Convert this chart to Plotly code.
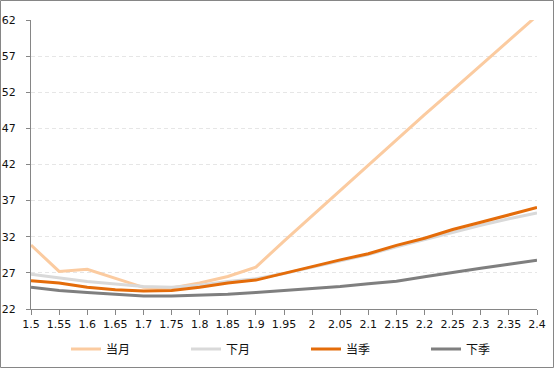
import plotly.graph_objects as go

x_vals = [1.5, 1.55, 1.6, 1.65, 1.7, 1.75, 1.8, 1.85, 1.9, 1.95,
          2.0, 2.05, 2.1, 2.15, 2.2, 2.25, 2.3, 2.35, 2.4]
x_labels = ["1.5", "1.55", "1.6", "1.65", "1.7", "1.75", "1.8", "1.85", "1.9", "1.95",
            "2", "2.05", "2.1", "2.15", "2.2", "2.25", "2.3", "2.35", "2.4"]

dangyue = [30.85, 27.2, 27.5, 26.3, 25.0, 24.9, 25.6, 26.5, 27.8, 31.4,
           34.9, 38.45, 42.0, 45.4, 48.9, 52.3, 55.7, 59.2, 62.6]
xiayue = [26.8, 26.3, 25.8, 25.45, 25.1, 25.0, 25.3, 25.8, 26.2, 26.9,
          27.75, 28.6, 29.55, 30.6, 31.6, 32.7, 33.6, 34.5, 35.3]
dangji = [25.9, 25.6, 25.0, 24.65, 24.5, 24.55, 25.0, 25.6, 26.0, 26.95,
          27.85, 28.8, 29.65, 30.8, 31.8, 33.0, 34.0, 35.05, 36.05]
xiaji = [25.0, 24.55, 24.3, 24.0, 23.8, 23.8, 23.9, 24.05, 24.3, 24.55,
         24.8, 25.1, 25.5, 25.85, 26.45, 27.1, 27.65, 28.2, 28.75]

y_ticks = [22, 27, 32, 37, 42, 47, 52, 57, 62]

series = [
    ("当月", dangyue, "#FBCBA0"),
    ("下月", xiayue, "#D9D9D9"),
    ("当季", dangji, "#E46C0A"),
    ("下季", xiaji, "#7F7F7F"),
]

fig = go.Figure()
for name, vals, color in series:
    fig.add_trace(go.Scatter(x=x_vals, y=vals, name=name, mode="lines",
                             line=dict(color=color, width=3)))

W, H = 554, 368
L, R, T, B = 31, 17, 20, 59
pw, ph = W - L - R, H - T - B

tick_font = dict(family="DejaVu Sans, Verdana, sans-serif", size=11, color="#111")

fig.update_layout(
    width=W, height=H,
    margin=dict(l=L, r=R, t=T, b=B, pad=0, autoexpand=False),
    paper_bgcolor="white", plot_bgcolor="white",
    font=dict(family="DejaVu Sans, Noto Sans CJK SC, sans-serif", size=11, color="#111"),
    showlegend=True,
    legend=dict(orientation="h", xref="container", x=66 / W, xanchor="left",
                yref="container", y=(H - 349) / H, yanchor="middle",
                entrywidth=75, entrywidthmode="pixels",
                font=dict(family="Noto Sans CJK SC", size=12, color="#111"),
                bgcolor="rgba(0,0,0,0)"),
    xaxis=dict(range=[1.5, 2.4], tickmode="array", tickvals=x_vals, ticktext=x_labels,
               tickfont=tick_font,
               showgrid=False, zeroline=False, showline=True, linecolor="#868686", linewidth=1,
               ticks="outside", ticklen=5, tickcolor="#868686", tickwidth=1,
               tickangle=0, automargin=False, fixedrange=True),
    yaxis=dict(range=[22, 62], tickmode="array", tickvals=y_ticks,
               tickfont=tick_font,
               showgrid=True, gridcolor="#E6E6E6", gridwidth=1, griddash="4px,3px",
               zeroline=False, showline=True, linecolor="#868686", linewidth=1,
               ticks="outside", ticklen=4, tickcolor="#868686", tickwidth=1,
               ticklabelstandoff=8, automargin=False, fixedrange=True),
    shapes=[dict(type="rect", xref="paper", yref="paper",
                 x0=(0.5 - L) / pw, x1=(W - 0.5 - L) / pw,
                 y0=(H - B - (H - 0.5)) / ph, y1=(H - B - 0.5) / ph,
                 line=dict(color="#868686", width=1), fillcolor="rgba(0,0,0,0)",
                 layer="below")],
)

fig.write_html("out.html", config={"displayModeBar": False},
               post_script="document.body.style.margin='0';document.body.style.overflow='hidden';")
